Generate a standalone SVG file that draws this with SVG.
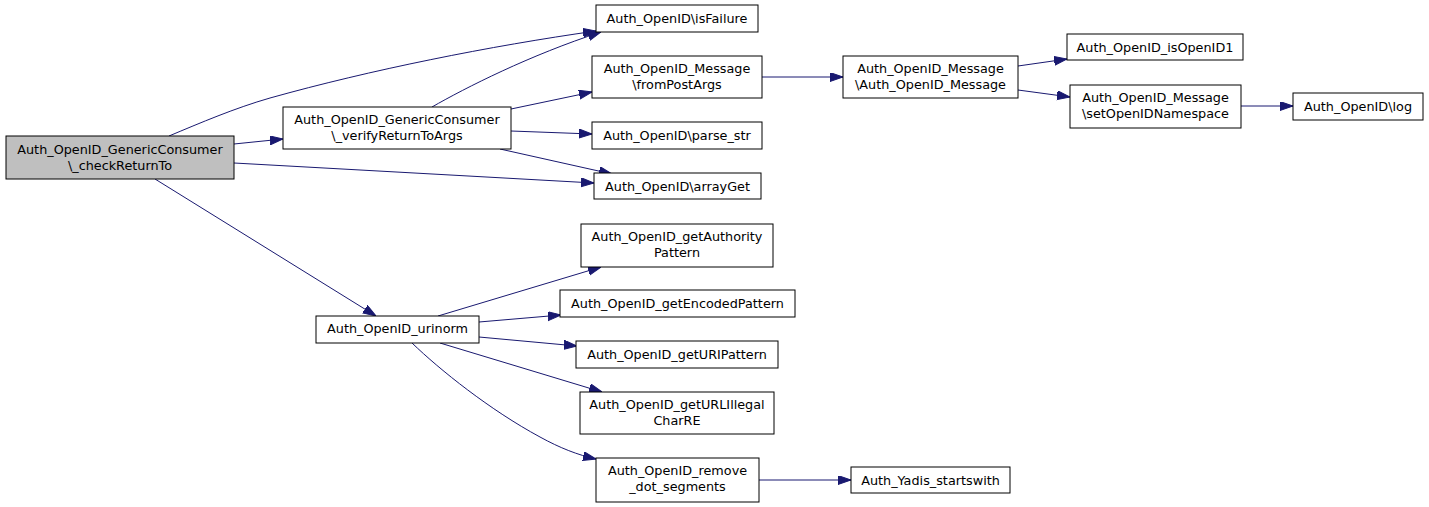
<svg xmlns="http://www.w3.org/2000/svg" width="1429" height="507" viewBox="0 0 1429 507">
<style>
.node rect{fill:#ffffff;stroke:#000000;stroke-width:1}
.node.root rect{fill:#bfbfbf}
.node text{font-family:"DejaVu Sans","Liberation Sans",sans-serif;font-size:12.8px;fill:#000000;text-anchor:middle}
.edges path{fill:none;stroke:#191970;stroke-width:1;marker-end:url(#arr)}
</style>
<defs>
<marker id="arr" markerUnits="userSpaceOnUse" markerWidth="13" markerHeight="10" refX="13" refY="4.5" orient="auto">
<path d="M0,0 L13,4.5 L0,9 z" fill="#191970" stroke="#191970" stroke-width="1"/>
</marker>
</defs>
<rect width="1429" height="507" fill="#ffffff"/>
<g class="edges" id="edges">
<path d="M234,144 L283,139"/>
<path d="M169,136 C200,123 235,108 270,98 C370,70 490,46 596,31"/>
<path d="M234,163 L594,183"/>
<path d="M155,179 L376,316"/>
<path d="M432,107 C465,88 530,55 601,32"/>
<path d="M511,109 L592,92"/>
<path d="M511,131 L592,134"/>
<path d="M500,149 L612,174"/>
<path d="M762,77 L843,77"/>
<path d="M1018,66 L1067,59"/>
<path d="M1018,90 L1070,97"/>
<path d="M1241,106 L1293,106"/>
<path d="M438,316 L601,267"/>
<path d="M479,322 L561,315"/>
<path d="M479,337 L577,346"/>
<path d="M440,343 L602,392"/>
<path d="M412,343 C440,370 490,410 540,437 C560,448 578,455 596,459"/>
<path d="M759,480 L851,480"/>
</g>
<g class="node root" id="n_checkReturnTo"><rect x="6" y="136" width="228" height="43"/><text x="120" y="154">Auth_OpenID_GenericConsumer</text><text x="120" y="170">\_checkReturnTo</text></g>
<g class="node" id="n_verifyReturnToArgs"><rect x="283" y="107" width="228" height="42"/><text x="397" y="124">Auth_OpenID_GenericConsumer</text><text x="397" y="140">\_verifyReturnToArgs</text></g>
<g class="node" id="n_isFailure"><rect x="596" y="5" width="162" height="27"/><text x="677" y="23">Auth_OpenID\isFailure</text></g>
<g class="node" id="n_fromPostArgs"><rect x="592" y="56" width="170" height="42"/><text x="677" y="73">Auth_OpenID_Message</text><text x="677" y="89">\fromPostArgs</text></g>
<g class="node" id="n_parse_str"><rect x="592" y="122" width="170" height="27"/><text x="677" y="140">Auth_OpenID\parse_str</text></g>
<g class="node" id="n_arrayGet"><rect x="594" y="173" width="167" height="26"/><text x="677.5" y="191">Auth_OpenID\arrayGet</text></g>
<g class="node" id="n_message"><rect x="843" y="56" width="175" height="42"/><text x="930.5" y="73">Auth_OpenID_Message</text><text x="930.5" y="89">\Auth_OpenID_Message</text></g>
<g class="node" id="n_isOpenID1"><rect x="1067" y="34" width="176" height="26"/><text x="1155" y="52">Auth_OpenID_isOpenID1</text></g>
<g class="node" id="n_setOpenIDNamespace"><rect x="1070" y="85" width="171" height="43"/><text x="1155.5" y="102">Auth_OpenID_Message</text><text x="1155.5" y="118">\setOpenIDNamespace</text></g>
<g class="node" id="n_log"><rect x="1293" y="93" width="130" height="27"/><text x="1358" y="111">Auth_OpenID\log</text></g>
<g class="node" id="n_getAuthorityPattern"><rect x="581" y="224" width="192" height="43"/><text x="677" y="241">Auth_OpenID_getAuthority</text><text x="677" y="257">Pattern</text></g>
<g class="node" id="n_getEncodedPattern"><rect x="560" y="290" width="235" height="27"/><text x="677.5" y="308">Auth_OpenID_getEncodedPattern</text></g>
<g class="node" id="n_getURIPattern"><rect x="576" y="341" width="202" height="27"/><text x="677" y="359">Auth_OpenID_getURIPattern</text></g>
<g class="node" id="n_getURLIllegalCharRE"><rect x="580" y="392" width="194" height="42"/><text x="677" y="409">Auth_OpenID_getURLIllegal</text><text x="677" y="425">CharRE</text></g>
<g class="node" id="n_remove_dot_segments"><rect x="596" y="458" width="163" height="44"/><text x="677.5" y="475">Auth_OpenID_remove</text><text x="677.5" y="491">_dot_segments</text></g>
<g class="node" id="n_urinorm"><rect x="316" y="316" width="163" height="27"/><text x="397.5" y="333">Auth_OpenID_urinorm</text></g>
<g class="node" id="n_startswith"><rect x="851" y="467" width="159" height="26"/><text x="930.5" y="485">Auth_Yadis_startswith</text></g>
</svg>
